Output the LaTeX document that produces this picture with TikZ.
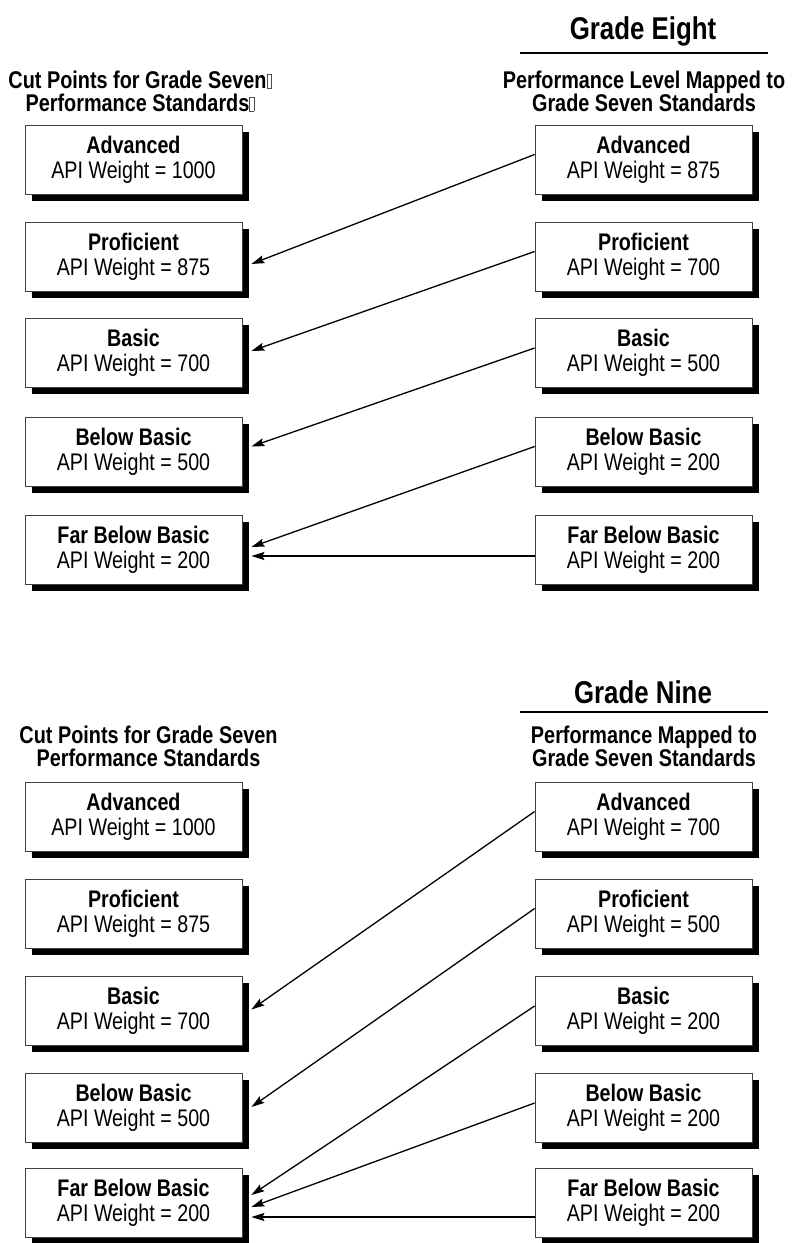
\documentclass[tikz,border=0pt]{standalone}
\usepackage{fontspec}
\setmainfont{Liberation Sans}[FakeStretch=0.82]
\usetikzlibrary{arrows.meta,shadows}
\newcommand{\tofu}{{\color{black!70}\setlength\fboxsep{0pt}\setlength\fboxrule{0.5pt}\fbox{\rule{0pt}{14pt}\hspace{4pt}}}}
\begin{document}
\begin{tikzpicture}[x=1pt,y=-1pt,
  lvlbox/.style={draw=black!75, line width=0.8pt, fill=white, minimum width=217pt, minimum height=69pt,
    inner sep=0pt, align=center, font=\fontsize{24}{25}\selectfont,
    drop shadow={shadow xshift=6.5pt, shadow yshift=-6.5pt, fill=black, opacity=1}},
  title/.style={font=\fontsize{31.5}{34}\selectfont\bfseries, inner sep=0pt},
  subhead/.style={font=\fontsize{24.2}{23}\selectfont\bfseries, align=center, inner sep=0pt},
  rule/.style={line width=1.6pt},
  arr/.style={line width=1.3pt, -{Stealth[length=13pt,width=8pt,inset=2pt]}}]
\useasboundingbox (0,0) rectangle (792,1243);

% ---------- Grade Eight ----------
\node[title] (t8) at (643,31) {Grade Eight};
\coordinate (r8a) at (520,53);
\coordinate (r8b) at (768,53);
\draw[rule] (r8a) -- (r8b);
\node[subhead] (h8l) at (140,91) {Cut Points for Grade Seven\tofu\\Performance Standards\tofu};
\node[subhead] (h8r) at (644,91) {Performance Level Mapped to\\Grade Seven Standards};

\node[lvlbox] (A1) at (133.5,159.5) {\textbf{Advanced}\\API Weight = 1000};
\node[lvlbox] (A2) at (133.5,256.5) {\textbf{Proficient}\\API Weight = 875};
\node[lvlbox] (A3) at (133.5,353) {\textbf{Basic}\\API Weight = 700};
\node[lvlbox] (A4) at (133.5,451.5) {\textbf{Below Basic}\\API Weight = 500};
\node[lvlbox] (A5) at (133.5,549.5) {\textbf{Far Below Basic}\\API Weight = 200};

\node[lvlbox] (B1) at (643.5,159.5) {\textbf{Advanced}\\API Weight = 875};
\node[lvlbox] (B2) at (643.5,256.5) {\textbf{Proficient}\\API Weight = 700};
\node[lvlbox] (B3) at (643.5,353) {\textbf{Basic}\\API Weight = 500};
\node[lvlbox] (B4) at (643.5,451.5) {\textbf{Below Basic}\\API Weight = 200};
\node[lvlbox] (B5) at (643.5,549.5) {\textbf{Far Below Basic}\\API Weight = 200};

\draw[arr] ([yshift=5pt]B1.west) -- ([xshift=9pt,yshift=-7.5pt]A2.east);
\draw[arr] ([yshift=5pt]B2.west) -- ([xshift=9pt,yshift=2pt]A3.east);
\draw[arr] ([yshift=5pt]B3.west) -- ([xshift=9pt,yshift=5pt]A4.east);
\draw[arr] ([yshift=5pt]B4.west) -- ([xshift=9pt,yshift=2.5pt]A5.east);
\draw[arr] ([yshift=-6.5pt]B5.west) -- ([xshift=9pt,yshift=-6.5pt]A5.east);

% ---------- Grade Nine ----------
\node[title] (t9) at (643,692) {Grade Nine};
\coordinate (r9a) at (520,712);
\coordinate (r9b) at (768,712);
\draw[rule] (r9a) -- (r9b);
\node[subhead] (h9l) at (148.5,746) {Cut Points for Grade Seven\\Performance Standards};
\node[subhead] (h9r) at (644,746) {Performance Mapped to\\Grade Seven Standards};

\node[lvlbox] (C1) at (133.5,816.5) {\textbf{Advanced}\\API Weight = 1000};
\node[lvlbox] (C2) at (133.5,913.5) {\textbf{Proficient}\\API Weight = 875};
\node[lvlbox] (C3) at (133.5,1011) {\textbf{Basic}\\API Weight = 700};
\node[lvlbox] (C4) at (133.5,1108) {\textbf{Below Basic}\\API Weight = 500};
\node[lvlbox] (C5) at (133.5,1203) {\textbf{Far Below Basic}\\API Weight = 200};

\node[lvlbox] (D1) at (643.5,816.5) {\textbf{Advanced}\\API Weight = 700};
\node[lvlbox] (D2) at (643.5,913.5) {\textbf{Proficient}\\API Weight = 500};
\node[lvlbox] (D3) at (643.5,1011) {\textbf{Basic}\\API Weight = 200};
\node[lvlbox] (D4) at (643.5,1108) {\textbf{Below Basic}\\API Weight = 200};
\node[lvlbox] (D5) at (643.5,1203) {\textbf{Far Below Basic}\\API Weight = 200};

\draw[arr] ([yshift=5pt]D1.west) -- ([xshift=9pt,yshift=1.5pt]C3.east);
\draw[arr] ([yshift=5pt]D2.west) -- ([xshift=9pt,yshift=1pt]C4.east);
\draw[arr] ([yshift=5pt]D3.west) -- ([xshift=9pt,yshift=8pt]C5.east);
\draw[arr] ([yshift=5pt]D4.west) -- ([xshift=9pt,yshift=-4pt]C5.east);
\draw[arr] ([yshift=-14pt]D5.west) -- ([xshift=9pt,yshift=-14pt]C5.east);
\end{tikzpicture}
\end{document}
